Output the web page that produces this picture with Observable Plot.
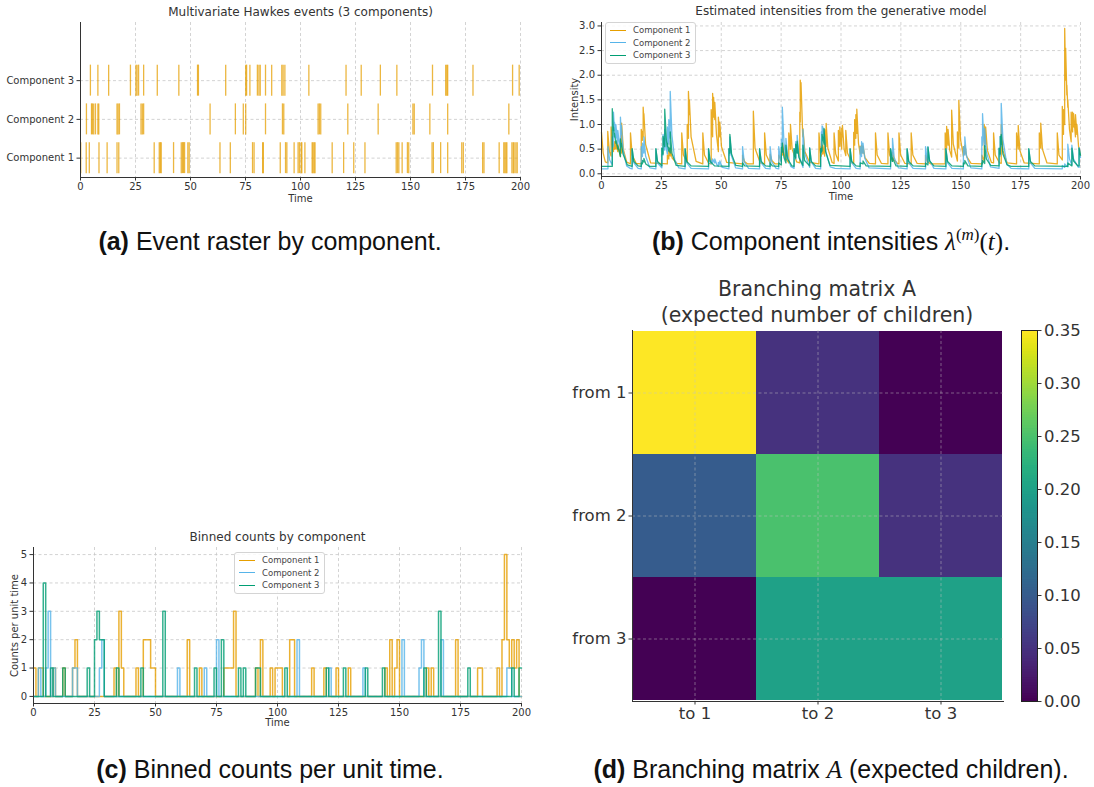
<!DOCTYPE html>
<html>
<head>
<meta charset="utf-8">
<script src="https://cdn.jsdelivr.net/npm/d3@7"></script>
<script src="https://cdn.jsdelivr.net/npm/@observablehq/plot@0.6"></script>
<style>
  body { margin: 0; background: #fff; }
  #page { position: relative; width: 1094px; height: 787px; overflow: hidden; background: #fff; }
  .panel { position: absolute; }
  .caption { position: absolute; transform: translateX(-50%); white-space: nowrap;
    font-family: "Liberation Sans", Arial, sans-serif; font-size: 25px; line-height: 25px; color: #111; }
  .caption .m { font-family: "Liberation Serif", "DejaVu Serif", serif; font-style: italic; }
  .caption .up { font-family: "Liberation Serif", "DejaVu Serif", serif; font-style: normal; }
  .caption sup { font-size: 17px; vertical-align: 10px; line-height: 0; }
  .legend { position: absolute; box-sizing: border-box; border: 1px solid #d4d4d4; border-radius: 3px;
    background: rgba(255,255,255,0.85); font-family: "DejaVu Sans", sans-serif; font-size: 8.5px; color: #444;
    padding: 1px 5px 1px 4px; white-space: nowrap; }
  .legend .row { display: flex; align-items: center; height: 12.5px; white-space: nowrap; }
  .legend .sw { flex: 0 0 16px; width: 16px; height: 0; border-top: 1.6px solid; margin-right: 7px; }
  .htitle { position: absolute; transform: translateX(-50%); text-align: center; white-space: nowrap;
    font-family: "DejaVu Sans", sans-serif; font-size: 20.5px; line-height: 25.5px; color: #333; }
</style>
</head>
<body>
<div id="page"></div>
<script>
// ---------- data ----------
const componentNames = ["Component 1", "Component 2", "Component 3"];
const componentColors = ["#E69F00", "#56B4E9", "#009E73"];
const timeTicks = [0, 25, 50, 75, 100, 125, 150, 175, 200];

// event times of each component
const events1 = [0.1, 2.6, 4.0, 8.4, 12.1, 16.6, 17.4, 33.5, 35.8, 36.3, 36.7, 42.3, 45.8, 46.4, 46.8, 47.3, 48.8, 49.4,
  63.4, 68.1, 78.2, 78.9, 82.8, 83.1, 90.8, 93.2, 93.8, 97.1, 98.9, 99.5, 100.3, 100.6, 102.0, 105.3, 105.7, 106.2,
  106.6, 114.4, 119.6, 124.2, 129.3, 143.5, 144.1, 144.7, 146.2, 148.6, 149.2, 159.8, 160.4, 163.7, 166.9, 173.3,
  174.0, 182.8, 183.4, 190.3, 192.4, 192.9, 193.4, 193.8, 196.1, 196.7, 197.1, 197.9, 198.5];
const events2 = [2.7, 5.0, 5.4, 6.0, 6.8, 7.9, 8.3, 16.6, 17.1, 17.7, 27.5, 28.1, 28.7, 58.9, 70.4, 74.0, 75.1, 84.1,
  91.8, 92.4, 108.0, 108.6, 109.2, 121.5, 135.3, 151.1, 151.7, 158.8, 166.9, 194.7];
const events3 = [4.5, 7.9, 12.8, 22.7, 25.2, 25.7, 26.4, 28.7, 34.9, 44.7, 53.2, 53.6, 66.0, 75.1, 75.5, 77.0, 80.4,
  81.1, 81.7, 84.1, 86.9, 91.5, 92.1, 92.9, 103.8, 120.7, 127.6, 136.3, 143.8, 160.0, 166.0, 166.5, 166.9, 178.4,
  196.4, 199.4];

// intensity traces, as (time, intensity) pairs
const intensity1 = [0,0.84, 0.7,0.42, 1.6,0.24, 2.6,0.22, 2.6,0.86, 3.3,0.45, 4.0,0.36, 4.0,0.95, 4.7,0.5, 5.0,0.45,
  5.0,0.6, 5.4,0.5, 5.4,0.65, 6.0,0.5, 6.0,0.66, 6.8,0.45, 6.8,0.6, 7.9,0.35, 7.9,0.5, 8.4,0.42, 8.4,1.03, 9.1,0.5,
  10.5,0.24, 12.1,0.2, 12.1,0.83, 12.8,0.38, 14.5,0.21, 16.6,0.2, 16.6,0.9, 17.1,0.68, 17.1,0.86, 17.4,0.75,
  17.4,1.35, 17.7,1.1, 17.7,1.22, 18.4,0.6, 20.5,0.22, 27.5,0.2, 27.5,0.38, 28.1,0.3, 28.1,0.46, 28.7,0.36, 28.7,0.52,
  29.5,0.32, 31.5,0.21, 33.5,0.2, 33.5,0.83, 34.2,0.38, 35.8,0.23, 35.8,1.0, 36.3,0.72, 36.3,1.67, 36.7,1.2, 36.7,1.5,
  37.4,0.75, 39.5,0.25, 42.3,0.2, 42.3,0.83, 43.0,0.38, 44.8,0.21, 45.8,0.2, 45.8,1.3, 46.4,0.75, 46.4,1.63,
  46.8,1.15, 46.8,1.55, 47.3,1.1, 47.3,1.45, 48.0,0.8, 48.8,0.45, 48.8,1.15, 49.4,0.75, 49.4,1.05, 50.1,0.55,
  52.3,0.23, 58.9,0.2, 58.9,0.38, 59.7,0.25, 61,0.2, 63.4,0.2, 63.4,1.27, 64.1,0.52, 66.3,0.22, 68.1,0.2, 68.1,0.83,
  68.8,0.38, 70.4,0.22, 70.4,0.4, 71.1,0.27, 72.5,0.2, 74.0,0.2, 74.0,0.38, 75.1,0.27, 75.1,0.45, 75.6,0.38,
  75.6,0.63, 76.4,0.35, 78.2,0.22, 78.2,0.83, 78.9,0.5, 78.9,1.0, 79.6,0.5, 81.5,0.24, 82.8,0.22, 82.8,1.25,
  83.0,1.05, 83.0,1.9, 83.3,1.5, 83.3,1.85, 84.0,0.78, 84.1,0.75, 84.1,0.92, 84.9,0.45, 86.9,0.23, 90.8,0.2,
  90.8,0.83, 91.5,0.4, 91.8,0.36, 91.8,0.55, 92.4,0.4, 92.4,0.58, 93.2,0.36, 93.2,0.9, 93.8,0.55, 93.8,1.02,
  94.5,0.52, 96.3,0.23, 97.1,0.21, 97.1,0.83, 97.8,0.4, 98.9,0.26, 98.9,0.88, 99.5,0.55, 99.5,0.95, 100.3,0.5,
  100.3,0.92, 100.6,0.75, 100.6,0.98, 101.3,0.5, 102.0,0.37, 102.0,0.88, 102.7,0.42, 104.6,0.22, 105.3,0.21,
  105.3,0.84, 105.7,0.58, 105.7,1.1, 106.2,0.72, 106.2,1.2, 106.6,0.82, 106.6,1.31, 107.3,0.62, 108.0,0.4,
  108.0,0.56, 108.6,0.42, 108.6,0.58, 109.2,0.42, 109.2,0.56, 110,0.33, 111.8,0.21, 114.4,0.2, 114.4,0.83,
  115.1,0.38, 116.9,0.21, 119.6,0.2, 119.6,0.83, 120.3,0.38, 121.5,0.26, 121.5,0.44, 122.2,0.28, 123.6,0.21,
  124.2,0.2, 124.2,0.83, 124.9,0.38, 126.7,0.21, 129.3,0.2, 129.3,0.83, 130.0,0.38, 131.8,0.21, 135.3,0.2,
  135.3,0.38, 136.1,0.25, 137.5,0.2, 143.5,0.2, 143.5,0.83, 144.1,0.52, 144.1,0.96, 144.7,0.58, 144.7,0.9,
  145.4,0.48, 146.2,0.34, 146.2,1.29, 146.9,0.6, 148.6,0.26, 148.6,0.85, 149.2,0.52, 149.2,1.49, 149.9,0.7,
  151.1,0.36, 151.1,0.55, 151.7,0.4, 151.7,0.58, 152.5,0.35, 154.3,0.21, 158.8,0.2, 158.8,0.38, 159.8,0.26,
  159.8,1.0, 160.4,0.6, 160.4,0.95, 161.1,0.48, 162.8,0.23, 163.7,0.22, 163.7,0.83, 164.4,0.38, 166.2,0.22,
  166.9,0.21, 166.9,1.0, 167.6,0.47, 169.4,0.22, 173.3,0.2, 173.3,0.83, 174.0,0.5, 174.0,0.98, 174.7,0.47,
  176.5,0.22, 182.8,0.2, 182.8,0.83, 183.4,0.52, 183.4,1.03, 184.1,0.5, 186,0.22, 190.3,0.2, 190.3,0.83,
  191.0,0.38, 192.4,0.28, 192.4,1.37, 192.9,0.8, 192.9,1.3, 193.4,1.0, 193.4,2.95, 193.8,1.9, 193.8,2.55,
  194.3,1.6, 194.3,1.8, 194.7,1.35, 194.7,1.5, 195.4,0.9, 196.1,0.65, 196.1,1.25, 196.7,0.85, 196.7,1.25,
  197.1,0.95, 197.1,1.22, 197.9,0.75, 197.9,1.2, 198.5,0.8, 198.5,1.0, 199.2,0.55, 200,0.37];

const intensity2 = [0,0.1, 2.7,0.1, 2.7,0.55, 3.4,0.28, 4.5,0.18, 4.5,0.75, 5.0,0.55, 5.0,1.25, 5.4,0.88, 5.4,1.05,
  6.0,0.72, 6.0,1.0, 6.8,0.6, 6.8,0.88, 7.3,0.68, 7.9,0.52, 7.9,1.15, 8.3,0.8, 8.3,0.98, 9.0,0.48, 10.5,0.16,
  12,0.11, 12.8,0.1, 12.8,0.5, 13.5,0.22, 15.3,0.11, 16.6,0.1, 16.6,0.55, 17.1,0.35, 17.1,0.62, 17.7,0.42,
  17.7,0.75, 18.4,0.36, 20.2,0.12, 22.7,0.1, 22.7,0.5, 23.4,0.22, 25.2,0.12, 25.2,0.52, 25.7,0.38, 25.7,0.8,
  26.4,0.48, 26.4,0.9, 27.1,0.5, 27.5,0.4, 27.5,0.95, 28.1,0.6, 28.1,1.1, 28.7,0.72, 28.7,1.67, 29.4,0.78,
  30.6,0.28, 32.3,0.12, 34.9,0.1, 34.9,0.5, 35.6,0.22, 37.4,0.11, 44.7,0.1, 44.7,0.5, 45.4,0.24, 45.8,0.2,
  45.8,0.27, 46.4,0.22, 46.4,0.3, 47.3,0.22, 47.3,0.3, 48.2,0.18, 48.8,0.15, 48.8,0.23, 49.4,0.19, 49.4,0.26,
  50.5,0.13, 53.2,0.1, 53.2,0.5, 53.6,0.38, 53.6,0.75, 54.3,0.36, 56,0.12, 58.9,0.1, 58.9,0.55, 59.6,0.24,
  61.4,0.11, 66.0,0.1, 66.0,0.5, 66.7,0.22, 68.5,0.11, 70.4,0.1, 70.4,0.55, 71.1,0.24, 72.9,0.11, 74.0,0.1,
  74.0,0.55, 74.7,0.28, 75.1,0.24, 75.1,0.7, 75.5,0.52, 75.5,1.35, 76.2,0.62, 77.0,0.32, 77.0,0.72, 77.7,0.36,
  79,0.15, 80.4,0.11, 80.4,0.51, 81.1,0.3, 81.1,0.65, 81.7,0.42, 81.7,0.78, 82.4,0.38, 84.1,0.13, 84.1,0.9,
  84.8,0.42, 86.9,0.13, 86.9,0.53, 87.6,0.24, 89.4,0.11, 91.5,0.1, 91.5,0.5, 91.8,0.42, 91.8,0.85, 92.1,0.7,
  92.1,0.97, 92.4,0.82, 92.4,0.95, 92.9,0.7, 92.9,0.9, 93.6,0.45, 95.5,0.14, 97.5,0.11, 103.8,0.1, 103.8,0.5,
  104.5,0.22, 106.3,0.11, 108.0,0.1, 108.0,0.55, 108.6,0.35, 108.6,0.65, 109.2,0.42, 109.2,0.62, 109.9,0.32,
  111.7,0.12, 120.7,0.1, 120.7,0.5, 121.5,0.3, 121.5,0.72, 122.2,0.33, 124,0.12, 127.6,0.1, 127.6,0.5,
  128.3,0.22, 130.1,0.11, 135.3,0.1, 135.3,0.55, 136.0,0.26, 136.3,0.22, 136.3,0.55, 137.0,0.27, 138.8,0.11,
  143.8,0.1, 143.8,0.5, 144.5,0.22, 146.3,0.11, 151.1,0.1, 151.1,0.55, 151.7,0.38, 151.7,0.75, 152.4,0.36,
  154.2,0.12, 158.8,0.1, 158.8,0.75, 159.1,0.58, 159.1,1.22, 159.7,0.66, 160.0,0.55, 160.0,0.92, 160.7,0.45,
  162.4,0.14, 166.0,0.11, 166.0,0.51, 166.5,0.36, 166.5,0.76, 166.9,0.56, 166.9,1.43, 167.6,0.7, 169.2,0.2,
  171,0.11, 178.4,0.1, 178.4,0.5, 179.1,0.22, 180.9,0.11, 192.4,0.1, 192.4,0.17, 193.4,0.13, 193.4,0.2,
  194.7,0.14, 194.7,0.6, 195.4,0.3, 196.4,0.18, 196.4,0.58, 197.1,0.3, 199.0,0.14, 199.4,0.13, 199.4,0.53, 200,0.33];

const intensity3 = [0,0.15, 4.5,0.15, 4.5,1.32, 4.9,0.92, 5.0,0.88, 5.0,0.95, 5.4,0.75, 5.4,0.82, 6.0,0.62,
  6.0,0.69, 6.8,0.5, 6.8,0.57, 7.9,0.35, 7.9,0.71, 8.3,0.55, 8.3,0.62, 9.0,0.4, 10.8,0.18, 12.8,0.15, 12.8,0.51,
  13.5,0.25, 15.3,0.16, 16.6,0.15, 16.6,0.22, 17.1,0.2, 17.1,0.27, 17.7,0.24, 17.7,0.31, 18.5,0.2, 20,0.15,
  22.7,0.15, 22.7,0.51, 23.4,0.25, 25.2,0.16, 25.2,0.52, 25.7,0.4, 25.7,0.76, 26.4,0.55, 26.4,1.31, 27.1,0.68,
  27.5,0.55, 27.5,0.62, 28.1,0.46, 28.1,0.53, 28.7,0.42, 28.7,0.85, 29.4,0.42, 31.2,0.17, 34.9,0.15, 34.9,0.51,
  35.6,0.25, 37.4,0.16, 44.7,0.15, 44.7,0.51, 45.4,0.25, 47.2,0.16, 53.2,0.15, 53.2,0.51, 53.6,0.42, 53.6,0.8,
  54.3,0.4, 56.1,0.17, 58.9,0.15, 58.9,0.22, 59.8,0.16, 66.0,0.15, 66.0,0.51, 66.7,0.25, 68.5,0.16, 70.4,0.15,
  70.4,0.22, 71.3,0.16, 74.0,0.15, 74.0,0.22, 75.1,0.18, 75.1,0.54, 75.5,0.44, 75.5,0.62, 76.2,0.33, 77.0,0.22,
  77.0,0.58, 77.7,0.3, 79.5,0.16, 80.4,0.15, 80.4,0.51, 81.1,0.32, 81.1,0.6, 81.7,0.42, 81.7,0.66, 82.4,0.33,
  84.1,0.17, 84.1,0.58, 84.8,0.27, 86.9,0.16, 86.9,0.52, 87.6,0.25, 89.4,0.16, 91.5,0.15, 91.5,0.51, 91.8,0.44,
  91.8,0.52, 92.1,0.46, 92.1,0.8, 92.4,0.68, 92.4,0.75, 92.9,0.6, 92.9,0.92, 93.6,0.45, 95.4,0.17, 103.8,0.15,
  103.8,0.51, 104.5,0.25, 106.3,0.16, 108.0,0.15, 108.0,0.22, 109.2,0.2, 109.2,0.26, 110.5,0.16, 120.7,0.15,
  120.7,0.51, 121.4,0.25, 121.5,0.25, 121.5,0.32, 123,0.16, 127.6,0.15, 127.6,0.51, 128.3,0.25, 130.1,0.16,
  135.3,0.15, 135.3,0.22, 136.3,0.18, 136.3,0.54, 137.0,0.26, 138.8,0.16, 143.8,0.15, 143.8,0.51, 144.5,0.25,
  146.3,0.16, 151.1,0.15, 151.1,0.22, 151.7,0.2, 151.7,0.27, 153,0.16, 158.8,0.15, 158.8,0.22, 159.1,0.2,
  159.1,0.27, 160.0,0.21, 160.0,0.57, 160.7,0.3, 162.5,0.17, 166.0,0.16, 166.0,0.52, 166.5,0.4, 166.5,0.76,
  166.9,0.6, 166.9,0.8, 167.6,0.4, 169.4,0.18, 171,0.15, 178.4,0.15, 178.4,0.51, 179.1,0.25, 180.9,0.16,
  194.7,0.15, 194.7,0.22, 196.4,0.16, 196.4,0.52, 197.1,0.26, 198.9,0.16, 199.4,0.16, 199.4,0.52, 200,0.38];

// counts per unit-time bin: [bin start, count]; bins not listed hold zero
const counts1 = [[0,1],[2,1],[3,1],[8,1],[12,1],[16,1],[17,2],[33,1],[35,3],[36,1],[42,1],[45,2],[46,2],[47,2],
  [48,1],[49,1],[63,2],[68,1],[78,1],[79,1],[80,1],[81,1],[82,3],[91,1],[93,2],[97,1],[99,1],[100,1],[101,1],
  [105,2],[106,2],[114,1],[119,1],[124,1],[129,1],[144,1],[146,2],[148,1],[149,2],[161,1],[163,1],[173,2],
  [182,1],[183,1],[190,1],[192,2],[193,5],[194,2],[195,1],[196,2],[197,1],[198,2]];
const counts2 = [[2,1],[5,1],[6,3],[8,1],[16,1],[17,1],[27,1],[28,2],[59,1],[70,1],[75,2],[108,2],[121,1],
  [135,1],[151,2],[158,1],[159,2],[167,2],[194,1],[195,1]];
const counts3 = [[4,4],[7,1],[12,1],[22,1],[25,2],[26,3],[27,2],[28,2],[34,1],[44,1],[53,3],[66,1],[74,1],
  [77,2],[84,1],[86,1],[91,1],[92,1],[103,1],[120,1],[127,1],[136,1],[143,1],[160,1],[166,3],[178,1],
  [196,1],[199,1]];

// branching matrix A (rows: parent component, columns: child component)
const branchFrom = ["from 1", "from 2", "from 3"];
const branchTo = ["to 1", "to 2", "to 3"];
const branching = [
  [0.35, 0.05, 0.00],
  [0.10, 0.25, 0.05],
  [0.00, 0.20, 0.20]
];
const colorbarTicks = [0, 0.05, 0.10, 0.15, 0.20, 0.25, 0.30, 0.35];

// ---------- helpers ----------
const page = document.getElementById("page");
const TEXT = "#333";
const gridStyle = {stroke: "#c8c8c8", strokeOpacity: 1, strokeWidth: 0.8, strokeDasharray: "3,2.5"};
const baseStyle = {background: "transparent", fontFamily: "'DejaVu Sans', sans-serif", fontSize: "10px", color: TEXT};

function place(node, left, top) {
  node.classList.add("panel");
  node.style.left = left + "px";
  node.style.top = top + "px";
  page.appendChild(node);
}
function addHTML(html, cls, left, top, extra = "") {
  const d = document.createElement("div");
  d.className = cls;
  d.style.cssText = `left:${left}px;top:${top}px;${extra}`;
  d.innerHTML = html;
  page.appendChild(d);
}
const pairs = (flat) => d3.range(0, flat.length, 2).map(i => ({t: flat[i], v: flat[i + 1]}));
function binSeries(sparse) {
  const v = new Array(200).fill(0);
  for (const [b, c] of sparse) v[b] = c;
  return v.map((c, i) => ({t: i, n: c})).concat([{t: 200, n: v[199]}]);
}
const spines = (x0, y0) => [
  Plot.ruleX([x0], {stroke: TEXT, strokeWidth: 1}),
  Plot.ruleY([y0], {stroke: TEXT, strokeWidth: 1})
];
const titleMark = (text, dy, size = 12) =>
  Plot.text([text], {text: d => d, frameAnchor: "top", dy, lineAnchor: "middle", fontSize: size, fill: TEXT});
const xLabel = (dy) =>
  Plot.text(["Time"], {text: d => d, frameAnchor: "bottom", dy, lineAnchor: "middle", fontSize: 10, fill: TEXT});
const yLabel = (text, dx) =>
  Plot.text([text], {text: d => d, frameAnchor: "left", dx, rotate: -90, textAnchor: "middle", lineAnchor: "middle", fontSize: 10, fill: TEXT});
function legend(left, top) {
  const rows = componentNames.map((n, i) =>
    `<div class="row"><span class="sw" style="border-color:${componentColors[i]}"></span><span>${n}</span></div>`).join("");
  addHTML(rows, "legend", left, top);
}

// ---------- (a) event raster ----------
const rasterRows = [events1, events2, events3].flatMap((ev, i) => ev.map(t => ({t, c: i + 1})));
place(Plot.plot({
  width: 540, height: 210,
  marginLeft: 80, marginRight: 20, marginTop: 22, marginBottom: 33,
  x: {domain: [0, 200]},
  y: {domain: [0.5, 4.5]},
  style: baseStyle,
  marks: [
    Plot.gridX({ticks: timeTicks, ...gridStyle}),
    Plot.gridY({ticks: [1, 2, 3], ...gridStyle}),
    Plot.ruleX(rasterRows, {x: "t", y1: d => d.c - 0.4, y2: d => d.c + 0.4,
      stroke: componentColors[0], strokeWidth: 1.3, strokeOpacity: 0.75}),
    ...spines(0, 0.5),
    Plot.axisX({ticks: timeTicks, tickSize: 3.5, tickPadding: 1.5, label: null}),
    Plot.axisY({ticks: [1, 2, 3], tickFormat: d => componentNames[d - 1], tickSize: 3.5, tickPadding: 3, label: null}),
    titleMark("Multivariate Hawkes events (3 components)", -10),
    xLabel(21)
  ]
}), 0, 0);

// ---------- (b) intensities ----------
const intensityRows = [intensity1, intensity2, intensity3].flatMap((s, i) =>
  pairs(s).map(p => ({...p, c: componentNames[i]})));
place(Plot.plot({
  width: 534, height: 210,
  marginLeft: 41, marginRight: 14, marginTop: 22, marginBottom: 34,
  x: {domain: [0, 200]},
  y: {domain: [-0.055, 3.07]},
  color: {domain: componentNames, range: componentColors},
  style: baseStyle,
  marks: [
    Plot.gridX({ticks: timeTicks, ...gridStyle}),
    Plot.gridY({ticks: [0, 0.5, 1, 1.5, 2, 2.5, 3], ...gridStyle}),
    Plot.line(intensityRows, {x: "t", y: "v", z: "c", stroke: "c", strokeWidth: 1.3, strokeOpacity: 0.85}),
    ...spines(0, -0.055),
    Plot.axisX({ticks: timeTicks, tickSize: 3.5, tickPadding: 1.5, label: null}),
    Plot.axisY({ticks: [0, 0.5, 1, 1.5, 2, 2.5, 3], tickFormat: d3.format(".1f"), tickSize: 3.5, tickPadding: 3, label: null}),
    titleMark("Estimated intensities from the generative model", -11.5),
    xLabel(20),
    yLabel("Intensity", -27)
  ]
}), 560, 0);
legend(605, 22);

// ---------- (c) binned counts ----------
const countRows = [counts1, counts2, counts3].flatMap((s, i) =>
  binSeries(s).map(p => ({...p, c: componentNames[i]})));
place(Plot.plot({
  width: 540, height: 215,
  marginLeft: 33, marginRight: 19, marginTop: 27, marginBottom: 32,
  x: {domain: [0, 200]},
  y: {domain: [-0.25, 5.25]},
  color: {domain: componentNames, range: componentColors},
  style: baseStyle,
  marks: [
    Plot.gridX({ticks: timeTicks, ...gridStyle}),
    Plot.gridY({ticks: [0, 1, 2, 3, 4, 5], ...gridStyle}),
    Plot.line(countRows, {x: "t", y: "n", z: "c", stroke: "c", curve: "step-after", strokeWidth: 1.5, strokeOpacity: 0.8}),
    ...spines(0, -0.25),
    Plot.axisX({ticks: timeTicks, tickSize: 3.5, tickPadding: 1.5, label: null}),
    Plot.axisY({ticks: [0, 1, 2, 3, 4, 5], tickFormat: d3.format("d"), tickSize: 3.5, tickPadding: 3, label: null}),
    titleMark("Binned counts by component", -10),
    xLabel(19.5),
    yLabel("Counts per unit time", -19)
  ]
}), 0, 520);
legend(234, 552);

// ---------- (d) branching matrix ----------
const cells = branchFrom.flatMap((f, i) => branchTo.map((t, j) => ({from: f, to: t, value: branching[i][j]})));
const viridis = {type: "linear", scheme: "viridis", domain: [0, 0.35]};
place(Plot.plot({
  width: 534, height: 470,
  marginLeft: 72, marginRight: 91, marginTop: 65, marginBottom: 34,
  x: {domain: branchTo, padding: 0},
  y: {domain: branchFrom, padding: 0},
  color: viridis,
  style: {...baseStyle, fontSize: "16.5px"},
  marks: [
    Plot.cell(cells, {x: "to", y: "from", fill: "value", inset: 0}),
    Plot.gridX({stroke: "#c0c0c0", strokeOpacity: 0.55, strokeWidth: 0.9, strokeDasharray: "3,2.5"}),
    Plot.gridY({stroke: "#c0c0c0", strokeOpacity: 0.55, strokeWidth: 0.9, strokeDasharray: "3,2.5"}),
    Plot.frame({anchor: "left", stroke: TEXT}),
    Plot.frame({anchor: "bottom", stroke: TEXT}),
    Plot.axisX({tickSize: 3.5, tickPadding: 2, label: null}),
    Plot.axisY({tickSize: 3.5, tickPadding: 2.5, label: null})
  ]
}), 560, 265);
addHTML("Branching matrix A<br>(expected number of children)", "htitle", 817, 277);

// vertical colorbar
const cbStep = 0.35 / 140;
const cbSteps = d3.range(0, 0.35, cbStep);
place(Plot.plot({
  width: 94, height: 395,
  marginLeft: 21, marginRight: 57, marginTop: 10, marginBottom: 14,
  x: {domain: [0, 1], axis: null},
  y: {domain: [0, 0.35]},
  color: viridis,
  style: {...baseStyle, fontSize: "16.5px"},
  marks: [
    Plot.rect(cbSteps, {x1: () => 0, x2: () => 1, y1: d => d, y2: d => Math.min(0.35, d + cbStep * 1.6),
      fill: d => d + cbStep / 2}),
    Plot.frame({stroke: "#222", strokeWidth: 1}),
    Plot.axisY({ticks: colorbarTicks, anchor: "right", tickFormat: d3.format(".2f"), tickSize: 3.5, tickPadding: 3, label: null})
  ]
}), 1000, 320);

// ---------- captions ----------
addHTML('<b>(a)</b> Event raster by component.', "caption", 270, 229);
addHTML('<b>(b)</b> Component intensities <span class="m">λ</span><sup class="up">(<span class="m">m</span>)</sup><span class="up">(</span><span class="m">t</span><span class="up">)</span>.', "caption", 831, 229);
addHTML('<b>(c)</b> Binned counts per unit time.', "caption", 270, 757);
addHTML('<b>(d)</b> Branching matrix <span class="m">A</span> (expected children).', "caption", 831, 757);
</script>
</body>
</html>
